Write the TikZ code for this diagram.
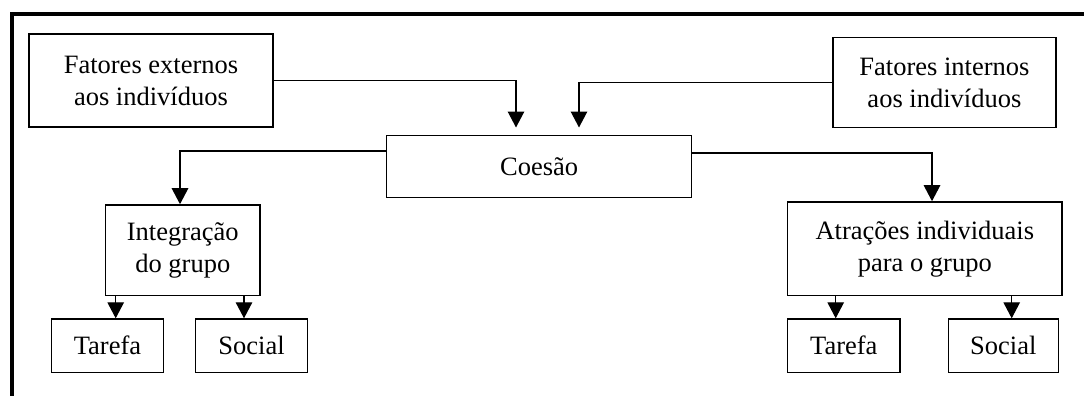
\documentclass[tikz,border=0pt]{standalone}
\usepackage{fontspec}
\setmainfont{Liberation Serif}
\usetikzlibrary{arrows.meta}
\begin{document}
\begin{tikzpicture}[x=1pt,y=-1pt,
  box/.style={draw, line width=1.5pt, rectangle, inner sep=0pt, align=center,
    font=\fontsize{26.5}{32}\selectfont},
  link/.style={line width=1.3pt, -{Triangle[width=16.5pt,length=16pt]}}]
\useasboundingbox (0,0) rectangle (1084,396);
% heavy frame along the top and left edges
\draw[line width=4pt] (12,396) -- (12,14.5) -- (1084,14.5);

% boxes
\node[box, minimum width=244pt, minimum height=93pt] (ext) at (151,80.5) {Fatores externos\\aos indivíduos};
\node[box, minimum width=223pt, minimum height=90pt] (int) at (944.4,82.7) {Fatores internos\\aos indivíduos};
\node[box, minimum width=305pt, minimum height=61.6pt] (coes) at (539.2,166.5) {Coesão};
\node[box, minimum width=154.3pt, minimum height=90.7pt] (integ) at (182.8,250.3) {Integração\\do grupo};
\node[box, minimum width=274.3pt, minimum height=93.7pt] (atra) at (924.8,248.8) {Atrações individuais\\para o grupo};
\node[box, minimum width=111.6pt, minimum height=53.3pt] (t1) at (107.5,345.7) {Tarefa};
\node[box, minimum width=111.6pt, minimum height=53.3pt] (s1) at (251.5,345.7) {Social};
\node[box, minimum width=112.3pt, minimum height=53.3pt] (t2) at (843.8,345.7) {Tarefa};
\node[box, minimum width=110pt, minimum height=53.3pt] (s2) at (1003.3,345.7) {Social};

% arrow ends just above the Coesão box
\coordinate (inL) at (516,127.5);
\coordinate (inR) at (579,127.5);

% connectors
\draw[link] (ext.east) -| (inL);
\draw[link] (int.west) -| (inR);
\draw[link] ([yshift=15.5pt]coes.west) -| (integ.north -| 180,0);
\draw[link] ([yshift=13.5pt]coes.east) -| (atra.north -| 932,0);
\draw[link] (integ.south -| 115.7,0) -- (t1.north -| 115.7,0);
\draw[link] (integ.south -| 244,0) -- (s1.north -| 244,0);
\draw[link] (atra.south -| 835.7,0) -- (t2.north -| 835.7,0);
\draw[link] (atra.south -| 1011.7,0) -- (s2.north -| 1011.7,0);
\end{tikzpicture}
\end{document}
